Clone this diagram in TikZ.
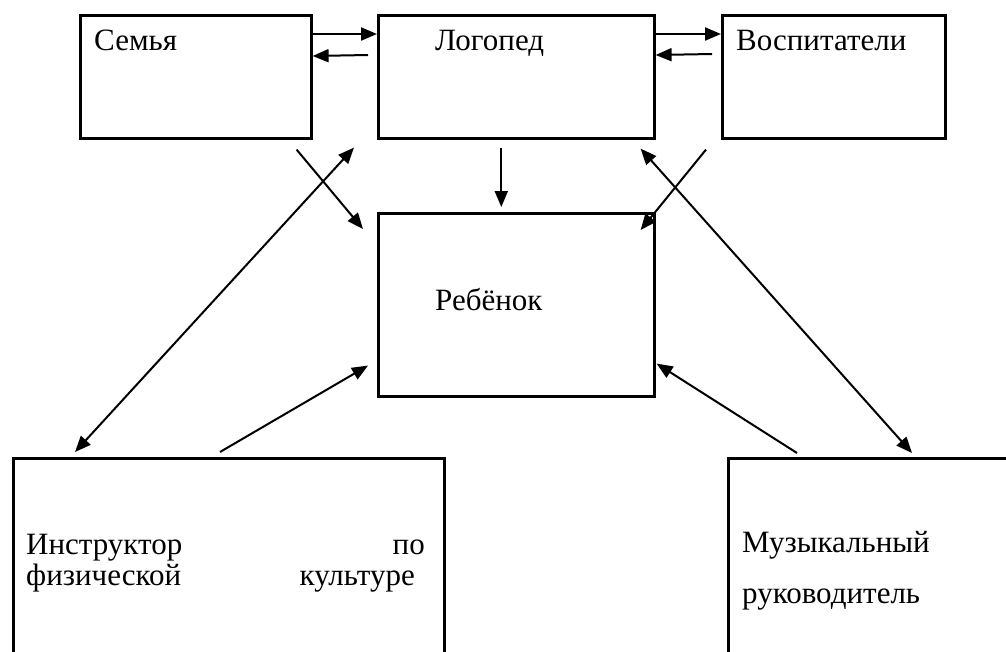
\documentclass[tikz,border=0pt]{standalone}
\usepackage{fontspec}
\setmainfont{Liberation Serif}
\usetikzlibrary{arrows.meta,calc}
\begin{document}
\begin{tikzpicture}[x=1pt,y=-1pt,
  box/.style={draw,line width=2.6pt,rectangle,inner sep=0pt,anchor=north west},
  lbl/.style={inner sep=0pt,font=\fontsize{31}{36}\selectfont},
  arr/.style={line width=2pt,-{Triangle[length=16pt,width=13pt]}},
  darr/.style={line width=2pt,{Triangle[length=16pt,width=13pt]}-{Triangle[length=16pt,width=13pt]}}]
\useasboundingbox[fill=white] (0,0) rectangle (1006,651);
% boxes
\node[box,minimum width=231pt,minimum height=123pt] (semya) at (79,14) {};
\node[box,minimum width=276pt,minimum height=123pt] (logoped) at (377,14) {};
\node[box,minimum width=223pt,minimum height=123pt] (vosp) at (721,14) {};
\node[box,minimum width=276pt,minimum height=183pt] (reb) at (377,212) {};
\node[box,minimum width=431pt,minimum height=230pt] (instr) at (12,457) {};
\node[box,minimum width=300pt,minimum height=230pt] (muz) at (727,457) {};
% labels
\node[lbl,anchor=base west] (tsemya) at (94,50) {Семья};
\node[lbl,anchor=base west] (tlogoped) at (435,50) {Логопед};
\node[lbl,anchor=base west] (tvosp) at (736,50) {Воспитатели};
\node[lbl,anchor=base west] (treb) at (435,310) {Ребёнок};
\node[lbl,anchor=base west] (tinstr1) at (26,554) {Инструктор};
\node[lbl,anchor=base east] (tpo) at (425,554) {по};
\node[lbl,anchor=base west] (tinstr2) at (26,585) {физической};
\node[lbl,anchor=base east] (tkult) at (415,585) {культуре};
\node[lbl,anchor=base west] (tmuz1) at (742,552) {Музыкальный};
\node[lbl,anchor=base west] (tmuz2) at (742,603) {руководитель};
% top row arrows
\draw[arr] ($(semya.north east)+(0,20)$) -- ($(logoped.north west)+(0,20)$);
\draw[arr] ($(logoped.north west)+(-9,41)$) -- ($(semya.north east)+(0,42)$);
\draw[arr] ($(logoped.north east)+(0,20)$) -- ($(vosp.north west)+(0,20)$);
\draw[arr] ($(vosp.north west)+(-9,40)$) -- ($(logoped.north east)+(0,41)$);
% down arrow
\draw[arr] ($(logoped.south)+(-15,8)$) -- ($(reb.north)+(-15,-5)$);
% diagonals to child
\draw[arr] ($(semya.south east)+(-16,10)$) -- ($(reb.north west)+(-14,17)$);
\draw[arr] ($(vosp.south west)+(-15,10)$) -- ($(reb.north east)+(-15,18)$);
\draw[arr] ($(instr.north west)+(208,-5)$) -- ($(reb.south west)+(-9,-32)$);
\draw[arr] ($(muz.north west)+(70,-4)$) -- ($(reb.south east)+(1,-34)$);
% double arrows
\draw[darr] ($(instr.north west)+(63,-5)$) -- ($(logoped.south west)+(-23,8)$);
\draw[darr] ($(muz.north west)+(185,-4)$) -- ($(logoped.south east)+(-15,9)$);
\end{tikzpicture}
\end{document}
